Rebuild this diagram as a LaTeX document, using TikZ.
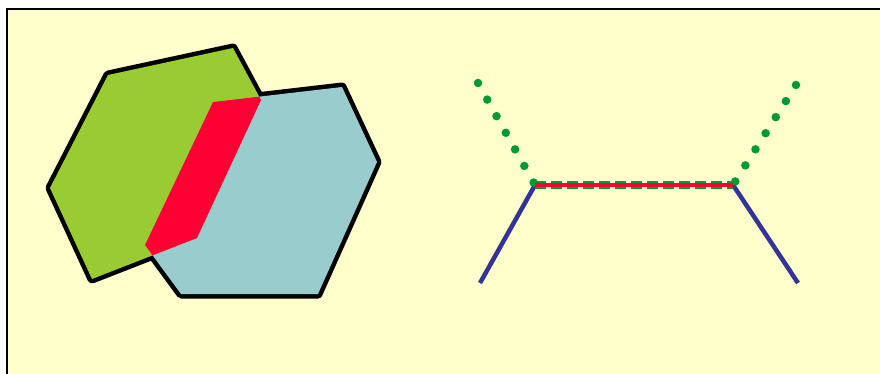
\documentclass[tikz,border=0pt]{standalone}
\usepackage{xcolor}
\usepackage{tikz}
\definecolor{CellGreen}{HTML}{99CC33}
\definecolor{CellTeal}{HTML}{99CCCC}
\definecolor{OverlapRed}{HTML}{FF0033}
\definecolor{PaperYellow}{HTML}{FFFFCC}
\definecolor{DotGreen}{HTML}{009933}
\definecolor{EdgeBlue}{HTML}{333399}
\newcommand{\greencell}{(50,188) -- (108,75) -- (233,48) -- (261,100) -- (197,238) -- (92,279) -- cycle}
\newcommand{\tealcell}{(145,245) -- (213,102) -- (342,87) -- (377,162) -- (318,294) -- (181,294) -- cycle}

\begin{document}
\begin{tikzpicture}[
  x=1pt, y=-1pt,
  outline/.style={draw=black, line width=9pt, line join=round},
  dotedge/.style={DotGreen, line width=8.5pt, line cap=round, dash pattern=on 0pt off 19pt},
  dashedge/.style={DotGreen, line width=8pt, dash pattern=on 11pt off 5pt},
  sharededge/.style={OverlapRed, line width=4pt},
  blueedge/.style={EdgeBlue, line width=4.5pt}
]
  \useasboundingbox (0,0) rectangle (880,373);
  \fill[white] (0,0) rectangle (880,373);
  \fill[PaperYellow] (7,9) rectangle (890,383);
  \draw[line width=2pt] (7,383) -- (7,9) -- (890,9);

  \draw[outline] \greencell;
  \draw[outline] \tealcell;
  \fill[CellGreen] \greencell;
  \fill[CellTeal] \tealcell;
  \begin{scope}
    \clip \greencell;
    \fill[OverlapRed] \tealcell;
  \end{scope}

  \coordinate (leftjoint) at (535,185);
  \coordinate (rightjoint) at (733,185);
  \coordinate (lefttop) at (478,83);
  \coordinate (righttop) at (796,85);
  \coordinate (leftfoot) at (480,283);
  \coordinate (rightfoot) at (798,283);

  \draw[blueedge] (leftjoint) -- (leftfoot);
  \draw[blueedge] (rightjoint) -- (rightfoot);
  \draw[dotedge] (lefttop) -- (leftjoint);
  \draw[dotedge] (righttop) -- (rightjoint);
  \draw[dashedge] (leftjoint) -- (rightjoint);
  \draw[sharededge, yshift=1.5pt] (leftjoint) -- (rightjoint);
\end{tikzpicture}
\end{document}
